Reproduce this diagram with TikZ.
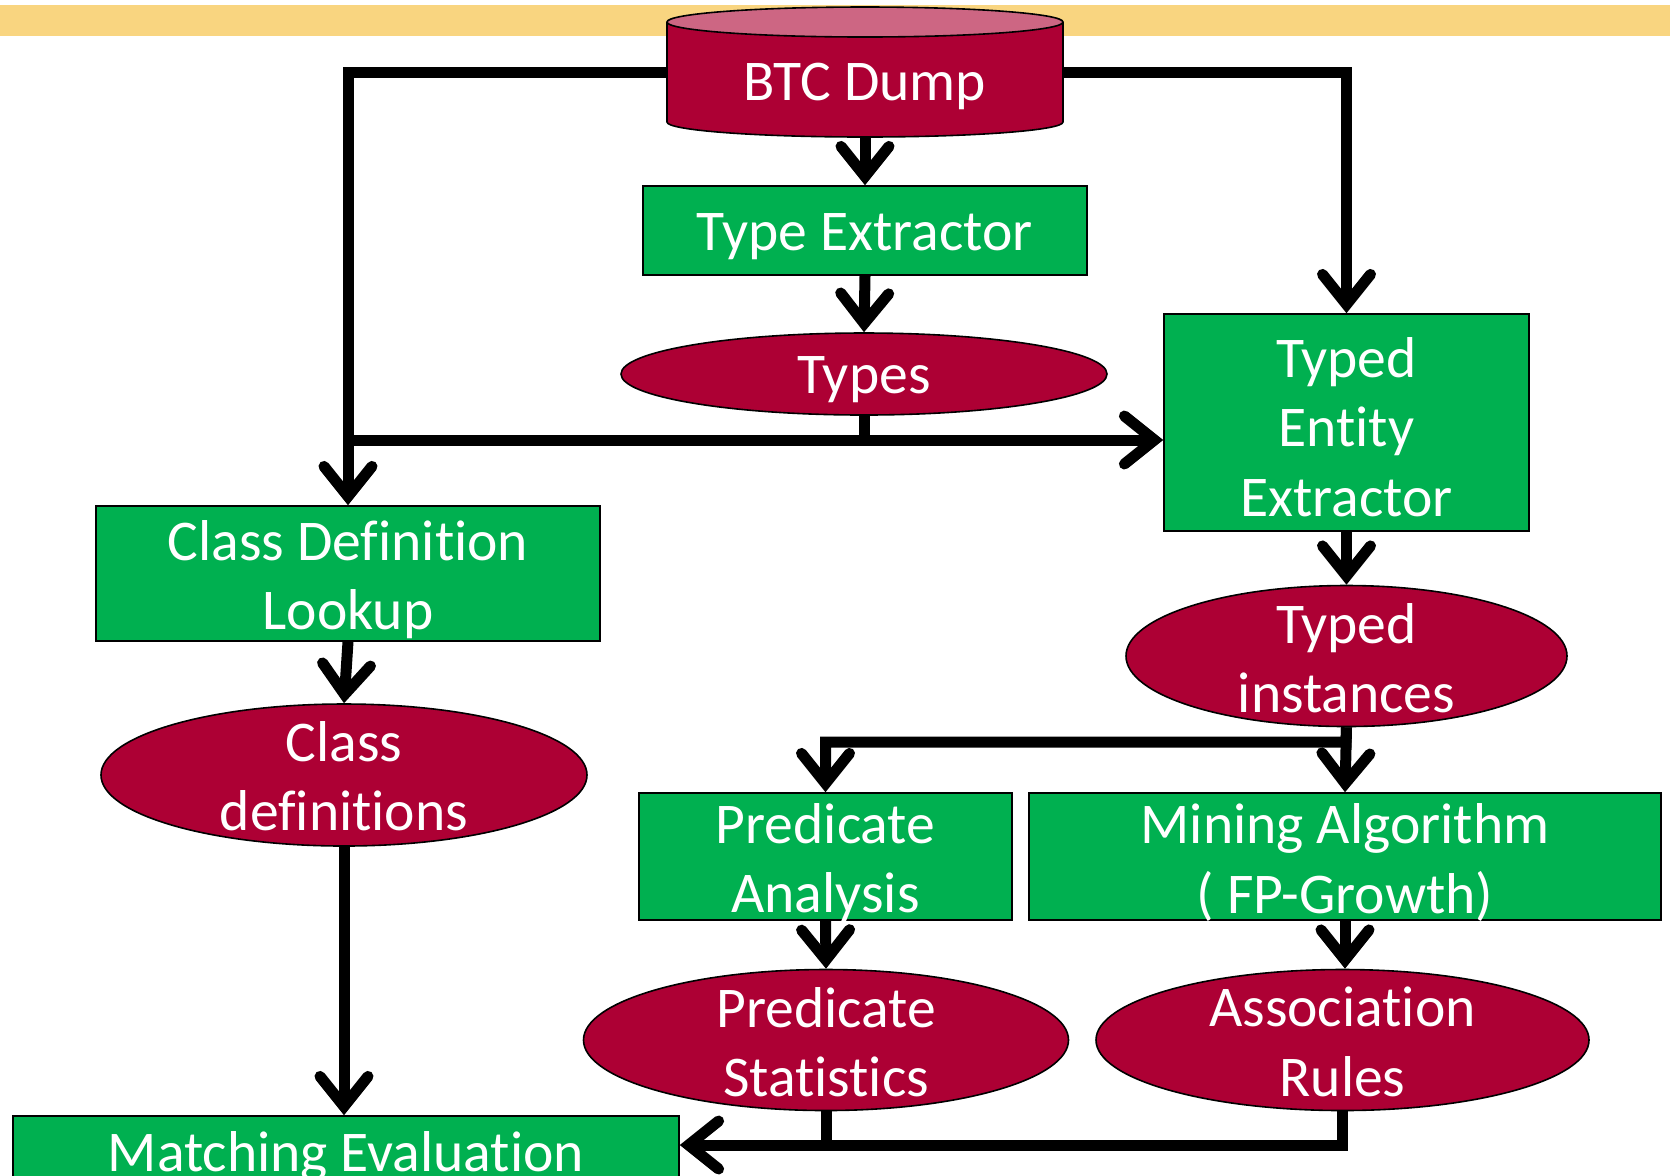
\documentclass[tikz,border=0pt]{standalone}
\usepackage{fontspec}
\setmainfont[Ligatures={NoCommon,NoContextual},Contextuals=NoAlternate]{Carlito}
\usetikzlibrary{arrows.meta,shapes.geometric}
\definecolor{grn}{HTML}{00B050}
\definecolor{dred}{HTML}{AD0034}
\definecolor{pinktop}{HTML}{CD6683}
\definecolor{band}{HTML}{F9D580}
\begin{document}
\begin{tikzpicture}[x=0.5pt,y=-0.5pt,
  txt/.style={text=white,font=\fontsize{28.8}{34.8}\selectfont,align=center,inner sep=0pt},
  gbox/.style={rectangle,fill=grn,draw=black,line width=0.8pt,inner sep=0pt},
  rell/.style={ellipse,fill=dred,draw=black,line width=0.8pt,inner sep=0pt},
  conn/.style={line width=5.5pt,draw=black},
  arr/.style={conn,-{Straight Barb[length=15pt,width=24pt,line cap=round,line join=miter]}},
]
\useasboundingbox (0,0) rectangle (1670,1175);
\clip (0,0) rectangle (1670,1175);
\fill[band] (0,5) rectangle (1670,36);

\coordinate (btcW) at (667,72);
\coordinate (btcE) at (1063,72);
\coordinate (btcS) at (865,137);
\coordinate (jL) at (347,440);
\coordinate (jT) at (1346,742);
\coordinate (jB) at (826,1145);

% cylinder BTC Dump
\node[rell, minimum width=198pt, minimum height=15pt] (btcB) at (865,122) {};
\fill[dred] (667,22) rectangle (1063,122);
\draw[line width=0.8pt] (667,22) -- (667,122) (1063,22) -- (1063,122);
\node[ellipse, fill=pinktop, draw=black, line width=0.8pt, inner sep=0pt, minimum width=198pt, minimum height=15pt] (btcT) at (865,22) {};
\node[txt] (btc) at (865,86) {BTC Dump};

% boxes
\node[gbox, minimum width=222pt, minimum height=44.5pt] (te) at (865,230.5) {};
\node[txt] (teT) at (865,236.5) {Type Extractor};
\node[gbox, minimum width=182.5pt, minimum height=108.5pt] (tee) at (1346.5,422.5) {};
\node[txt] (teeT) at (1346.5,427) {Typed\\Entity\\Extractor};
\node[gbox, minimum width=252pt, minimum height=67.5pt] (cdl) at (348,573.5) {};
\node[txt] (cdlT) at (348,579.5) {Class Definition\\Lookup};
\node[gbox, minimum width=186.5pt, minimum height=63.5pt] (pa) at (825.5,856.5) {};
\node[txt] (paT) at (825.5,862.5) {Predicate\\Analysis};
\node[gbox, minimum width=316pt, minimum height=63.5pt] (ma) at (1345,856.5) {};
\node[txt] (maT) at (1345,862.5) {Mining Algorithm\\( FP-Growth)};
\node[gbox, minimum width=333pt, minimum height=38pt] (me) at (346,1154) {};
\node[txt] (meT) at (346,1156) {Matching Evaluation};

% ellipses
\node[rell, minimum width=243pt, minimum height=41pt] (types) at (864,374) {};
\node[txt] (typesT) at (864,380) {Types};
\node[rell, minimum width=220.5pt, minimum height=70.5pt] (ti) at (1346.5,656) {};
\node[txt] (tiT) at (1346.5,658) {Typed\\instances};
\node[rell, minimum width=243pt, minimum height=71pt] (cd) at (344,775) {};
\node[txt] (cdT) at (344,776) {Class\\definitions};
\node[rell, minimum width=242.5pt, minimum height=70.5pt] (ps) at (826,1040) {};
\node[txt] (psT) at (826,1042) {Predicate\\Statistics};
\node[rell, minimum width=246.5pt, minimum height=70.5pt] (ar) at (1342.5,1040) {};
\node[txt] (arT) at (1342.5,1042) {Association\\Rules};

% connectors
\draw[arr] (btcW) -| (cdl.north);
\draw[arr] (btcE) -| (tee.north);
\draw[arr] (btcS) -- (te.north);
\draw[arr] (te.south) -- (types.north);
\draw[arr] (types.south) |- (tee.west |- jL);
\draw[conn] (types.south) |- (jL);
\draw[arr] (tee.south) -- (ti.north);
\draw[arr] (ti.south) -- (jT) -| (pa.north);
\draw[arr] (ti.south) -- (ma.north);
\draw[arr] (pa.south) -- (ps.north);
\draw[arr] (ma.south) -- (ma.south |- ar.north);
\draw[arr] (cdl.south) -- (cd.north);
\draw[arr] (cd.south) -- (cd.south |- me.north);
\draw[arr] (ps.south) |- (me.east |- jB);
\draw[conn] (ar.south) |- (jB);
\end{tikzpicture}
\end{document}
